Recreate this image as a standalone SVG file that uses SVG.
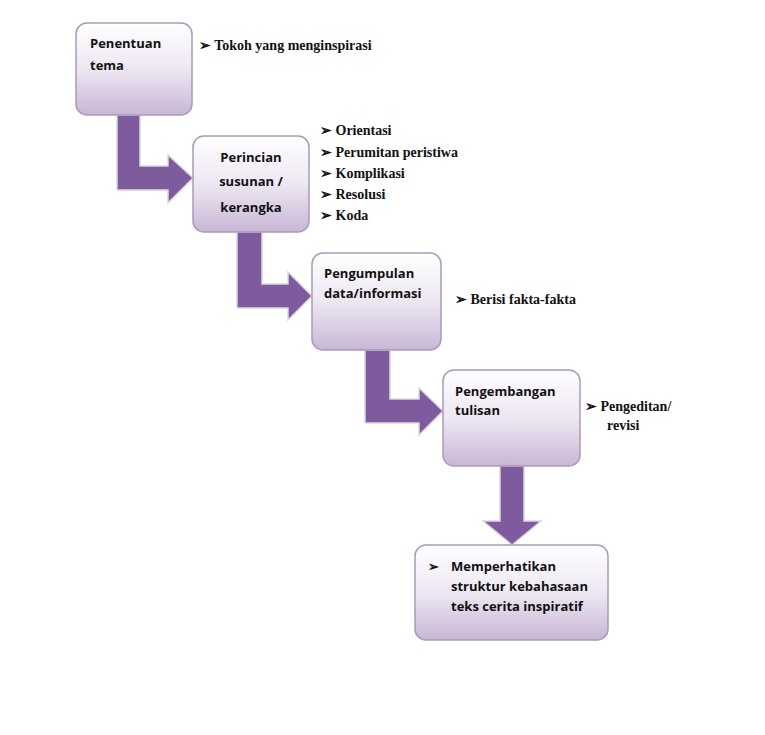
<svg xmlns="http://www.w3.org/2000/svg" width="765" height="735" viewBox="0 0 765 735">
<defs>
<linearGradient id="g" x1="0" y1="0" x2="0" y2="1"><stop offset="0" stop-color="#ffffff"/><stop offset="0.5" stop-color="#ede7f2"/><stop offset="1" stop-color="#c8b6d6"/></linearGradient>
<style>
.box{fill:url(#g);stroke:#a99bb5;stroke-width:1.5}
.arr{fill:#7d5b9c;stroke:#ddd6e2;stroke-width:1.5}
.t{font-family:"Open Sans",sans-serif;font-weight:bold;font-size:13px;fill:#111}
.s{font-family:"Liberation Serif",serif;font-weight:bold;font-size:14px;fill:#111}
</style>
</defs>
<rect width="765" height="735" fill="#fff"/>
<g id="connectors">
<path class="arr" d="M117,115 H140 V166 H168 V155 L193,178 L168,203 V190 H117 Z"/>
<path class="arr" d="M237,232 H262 V284 H288 V272 L312,296 L288,320 V308 H237 Z"/>
<path class="arr" d="M365,350 H390 V399 H419 V388 L443,411 L419,435 V423 H365 Z"/>
<path class="arr" d="M500,466 H524 V521 H541 L512,545 L483,521 H500 Z"/>
</g>
<g id="n1"><rect class="box" x="76" y="23" width="116" height="92" rx="11"/>
<text class="t" x="90" y="48">Penentuan</text><text class="t" x="90" y="70">tema</text></g>
<g id="n2"><rect class="box" x="193" y="136" width="116" height="96" rx="11"/>
<text class="t" x="251" y="162" text-anchor="middle">Perincian</text><text class="t" x="251" y="186" text-anchor="middle">susunan /</text><text class="t" x="251" y="212" text-anchor="middle">kerangka</text></g>
<g id="n3"><rect class="box" x="312" y="253" width="129" height="97" rx="11"/>
<text class="t" x="324" y="278">Pengumpulan</text><text class="t" x="324" y="298">data/informasi</text></g>
<g id="n4"><rect class="box" x="443" y="370" width="137" height="96" rx="11"/>
<text class="t" x="455" y="396">Pengembangan</text><text class="t" x="455" y="415">tulisan</text></g>
<g id="n5"><rect class="box" x="415" y="545" width="193" height="95" rx="11"/>
<text class="t" x="428" y="571">➢</text>
<text class="t" x="451" y="571">Memperhatikan</text><text class="t" x="451" y="591">struktur kebahasaan</text><text class="t" x="451" y="611">teks cerita inspiratif</text></g>
<g id="labels">
<text class="s" x="199" y="50">➢  Tokoh yang menginspirasi</text>
<text class="s" x="320" y="135">➢  Orientasi</text>
<text class="s" x="320" y="157">➢  Perumitan peristiwa</text>
<text class="s" x="320" y="178">➢  Komplikasi</text>
<text class="s" x="320" y="199">➢  Resolusi</text>
<text class="s" x="320" y="220">➢  Koda</text>
<text class="s" x="455" y="304">➢  Berisi fakta-fakta</text>
<text class="s" x="585" y="411">➢  Pengeditan/</text>
<text class="s" x="607" y="430">revisi</text>
</g>
</svg>
